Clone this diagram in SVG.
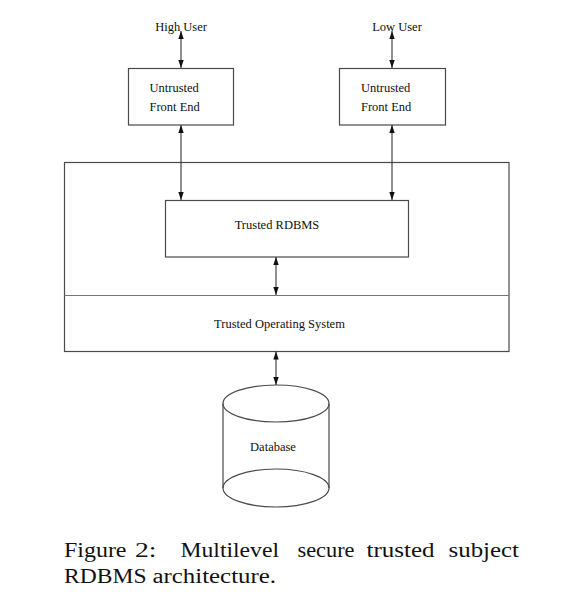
<svg xmlns="http://www.w3.org/2000/svg" width="564" height="614" viewBox="0 0 564 614">
<style>
.box{fill:none;stroke:#4a4a4a;stroke-width:1.2}
.lbl{font-size:12.5px;fill:#111;font-family:'Liberation Serif','Times New Roman',serif}
.cap{font-size:20px;fill:#111;font-family:'Liberation Serif','Times New Roman',serif}
.conn{stroke:#333;stroke-width:1.1;fill:none;marker-start:url(#ah);marker-end:url(#ah)}
</style>
<defs>
<marker id="ah" viewBox="0 0 8 6" refX="8" refY="3" markerWidth="8" markerHeight="6" markerUnits="userSpaceOnUse" orient="auto-start-reverse">
<path d="M0,0.3 L8,3 L0,5.7 Z" fill="#111"/>
</marker>
</defs>
<rect width="564" height="614" fill="#fff"/>
<g id="high-user"><text class="lbl" x="181" y="31" text-anchor="middle">High User</text></g>
<g id="low-user"><text class="lbl" x="397" y="31" text-anchor="middle">Low User</text></g>
<g id="fe-left">
<rect class="box" x="128.5" y="68.5" width="105" height="56.5"/>
<text class="lbl" x="149.5" y="92">Untrusted</text>
<text class="lbl" x="149.5" y="111">Front End</text>
</g>
<g id="fe-right">
<rect class="box" x="339.5" y="68.5" width="106" height="56.5"/>
<text class="lbl" x="361" y="92">Untrusted</text>
<text class="lbl" x="361" y="111">Front End</text>
</g>
<g id="trusted-os">
<rect class="box" x="64.5" y="162.5" width="444.5" height="189"/>
<line class="box" x1="64.5" y1="295.5" x2="509" y2="295.5" style="stroke:#777"/>
<text class="lbl" x="279.5" y="328" text-anchor="middle">Trusted Operating System</text>
</g>
<g id="rdbms">
<rect class="box" x="165.5" y="200.5" width="243" height="56.5"/>
<text class="lbl" x="277" y="229" text-anchor="middle">Trusted RDBMS</text>
</g>
<g id="database">
<path class="box" d="M223,403.5 V488 M329,403.5 V488"/>
<ellipse class="box" cx="276" cy="403.5" rx="53" ry="18.5" fill="#fff"/>
<path class="box" d="M223,488 A53,19 0 0 1 329,488 A53,19 0 0 1 223,488"/>
<text class="lbl" x="273" y="451" text-anchor="middle">Database</text>
</g>
<g id="connectors">
<line class="conn" x1="181" y1="31" x2="181" y2="68"/>
<line class="conn" x1="392" y1="31" x2="392" y2="68"/>
<line class="conn" x1="181" y1="125" x2="181" y2="200"/>
<line class="conn" x1="392" y1="125" x2="392" y2="200"/>
<line class="conn" x1="276" y1="257" x2="276" y2="295"/>
<line class="conn" x1="276" y1="351.5" x2="276" y2="385"/>
</g>
<g id="caption">
<text class="cap" x="64" y="557" textLength="62.5" lengthAdjust="spacingAndGlyphs">Figure</text>
<text class="cap" x="135" y="557" textLength="21.5" lengthAdjust="spacingAndGlyphs">2:</text>
<text class="cap" x="180.5" y="557" textLength="98.5" lengthAdjust="spacingAndGlyphs">Multilevel</text>
<text class="cap" x="297.5" y="557" textLength="57" lengthAdjust="spacingAndGlyphs">secure</text>
<text class="cap" x="366.5" y="557" textLength="68" lengthAdjust="spacingAndGlyphs">trusted</text>
<text class="cap" x="448.5" y="557" textLength="70.5" lengthAdjust="spacingAndGlyphs">subject</text>
<text class="cap" x="64" y="583" textLength="82.5" lengthAdjust="spacingAndGlyphs">RDBMS</text>
<text class="cap" x="152.5" y="583" textLength="123.5" lengthAdjust="spacingAndGlyphs">architecture.</text>
</g>
</svg>
